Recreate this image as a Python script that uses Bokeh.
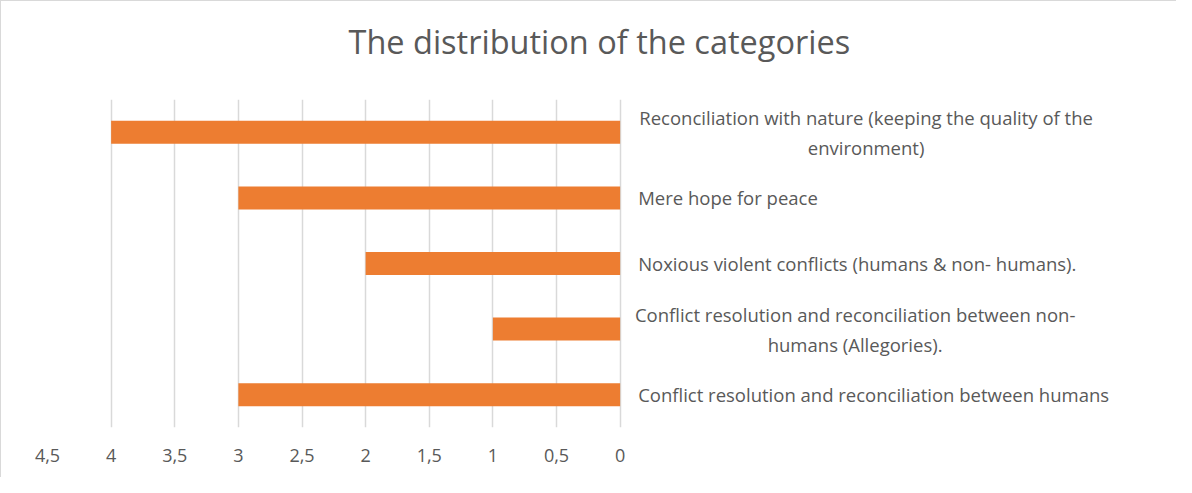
from bokeh.plotting import figure
from bokeh.models import Range1d, FactorRange, FixedTicker, ColumnDataSource, Title
from bokeh.core.properties import value
from bokeh.embed import file_html
from bokeh.resources import INLINE

# ---- data ----
categories = [
    "Reconciliation with nature (keeping the quality of the\nenvironment)",
    "Mere hope for peace",
    "Noxious violent conflicts (humans & non- humans).",
    "Conflict resolution and reconciliation between non-\nhumans (Allegories).",
    "Conflict resolution and reconciliation between humans",
]
counts = [4, 3, 2, 1, 3]
tick_values = [0, 0.5, 1, 1.5, 2, 2.5, 3, 3.5, 4, 4.5]
tick_labels = ["0", "0,5", "1", "1,5", "2", "2,5", "3", "3,5", "4", "4,5"]
title_text = "The distribution of the categories"

TEXT = "#595959"
GRID = "#D9D9D9"
BAR = "#ED7D31"
FONT = "Open Sans"

W, H = 1176, 477
left_b, top_b, bottom_b = 46, 98, 51
frame_w = W - left_b
px_per_unit = 127.25

p = figure(
    width=W, height=H,
    x_range=Range1d(4.5, 4.5 - frame_w / px_per_unit),
    y_range=FactorRange(*reversed(categories), range_padding=0),
    output_backend="svg", toolbar_location=None,
    min_border_left=left_b, min_border_right=0,
    min_border_top=top_b, min_border_bottom=bottom_b,
)
p.styles = {"border-top": "1px solid #D9D9D9", "border-left": "1px solid #D9D9D9"}
p.outline_line_color = None
p.background_fill_color = "white"

# spacer panel between frame and title (nearest to the frame)
p.add_layout(Title(text=" ", text_font_size="1px", standoff=33), "above")
# main title
p.add_layout(Title(text=title_text, align="left", offset=301, vertical_align="bottom",
                   standoff=0, text_font=FONT, text_font_size="32.5px",
                   text_font_style="normal", text_color=TEXT), "above")

# x axis
p.xaxis.ticker = FixedTicker(ticks=tick_values)
p.xaxis.major_label_overrides = dict(zip(tick_values, tick_labels))
p.xaxis.axis_line_color = None
p.xaxis.major_tick_line_color = None
p.xaxis.minor_tick_line_color = None
p.xaxis.major_label_standoff = 15
p.xaxis.major_label_text_font = FONT
p.xaxis.major_label_text_font_size = "18px"
p.xaxis.major_label_text_color = TEXT

p.yaxis.visible = False
p.ygrid.grid_line_color = None
p.xgrid.grid_line_color = GRID
p.xgrid.grid_line_width = 1.5
p.xgrid.ticker = FixedTicker(ticks=tick_values)

src = ColumnDataSource(dict(cat=categories, val=counts))
p.hbar(y="cat", left=0, right="val", height=0.35, source=src,
       fill_color=BAR, line_color=None)

# category labels to the right of the zero line
single = [c for c in categories if "\n" not in c]
multi = [c for c in categories if "\n" in c]
p.text(x=[0] * len(single), y=single, text=single, x_offset=18,
       text_align="left", text_baseline="middle",
       text_font=value(FONT), text_font_size="18.5px", text_color=TEXT)
p.text(x=[0] * len(multi), y=multi, text=multi, x_offset=[246, 235],
       text_align="center", text_baseline="middle", text_line_height=1.2,
       text_font=value(FONT), text_font_size="18.5px", text_color=TEXT)

open("out.html", "w").write(file_html(p, INLINE))
